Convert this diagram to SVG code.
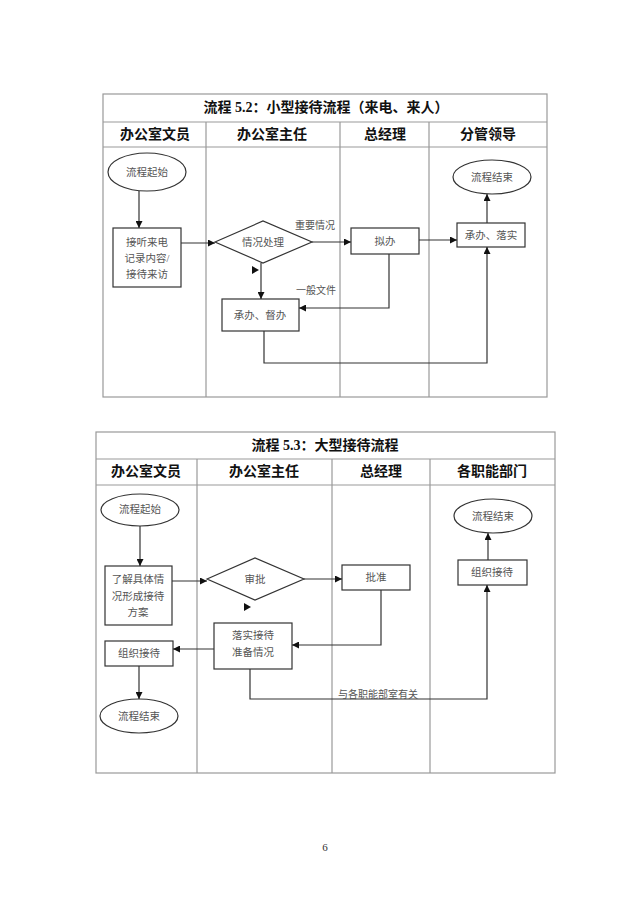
<svg xmlns="http://www.w3.org/2000/svg" width="640" height="906" viewBox="0 0 640 906">
<style>
.grid{fill:none;stroke:#999;stroke-width:1.2}
.node{fill:#fff;stroke:#333;stroke-width:1.2}
.conn{fill:none;stroke:#333;stroke-width:1.2}
.t{font-family:"Liberation Serif","Noto Sans CJK SC",serif;font-size:10.5px;fill:#555;text-anchor:middle}
.h{font-family:"Liberation Serif","Noto Sans CJK SC",serif;font-size:14px;font-weight:bold;fill:#111;text-anchor:middle}
.lbl{font-family:"Liberation Serif","Noto Sans CJK SC",serif;font-size:10px;fill:#555;text-anchor:start}
</style>
<defs>
<marker id="ah" viewBox="0 0 10 10" refX="10" refY="5" markerWidth="7" markerHeight="7" orient="auto" markerUnits="userSpaceOnUse">
<path d="M0,0 L10,5 L0,10 z" fill="#111"/>
</marker>
</defs>
<rect width="640" height="906" fill="#fff"/>

<!-- Table 1 -->
<g id="table1">
<rect class="grid" x="103" y="94" width="444" height="303"/>
<line class="grid" x1="103" y1="122" x2="547" y2="122"/>
<line class="grid" x1="103" y1="147" x2="547" y2="147"/>
<line class="grid" x1="206" y1="122" x2="206" y2="397"/>
<line class="grid" x1="340" y1="122" x2="340" y2="397"/>
<line class="grid" x1="429" y1="122" x2="429" y2="397"/>
<text class="h" x="326" y="112">流程 5.2：小型接待流程（来电、来人）</text>
<text class="h" x="155" y="139">办公室文员</text>
<text class="h" x="272" y="139">办公室主任</text>
<text class="h" x="385" y="139">总经理</text>
<text class="h" x="488" y="139">分管领导</text>
</g>

<g id="t1-start"><ellipse class="node" cx="147" cy="172" rx="39" ry="19"/><text class="t" x="147" y="176">流程起始</text></g>
<g id="t1-receive"><rect class="node" x="113" y="228" width="68" height="59"/>
<text class="t" x="147" y="246">接听来电</text><text class="t" x="147" y="262">记录内容/</text><text class="t" x="147" y="278">接待来访</text></g>
<g id="t1-decide"><polygon class="node" points="215,242 263,221 312,242 263,263"/><text class="t" x="263" y="246">情况处理</text></g>
<g id="t1-draft"><rect class="node" x="351" y="228" width="68" height="26"/><text class="t" x="385" y="245">拟办</text></g>
<g id="t1-impl"><rect class="node" x="457" y="223" width="68" height="24"/><text class="t" x="491" y="239">承办、落实</text></g>
<g id="t1-end"><ellipse class="node" cx="492" cy="177" rx="39" ry="17"/><text class="t" x="492" y="181">流程结束</text></g>
<g id="t1-handle"><rect class="node" x="222" y="299" width="77" height="32"/><text class="t" x="260" y="319">承办、督办</text></g>

<g id="connectors1">
<line class="conn" x1="139" y1="191" x2="139" y2="228" marker-end="url(#ah)"/>
<line class="conn" x1="181" y1="243" x2="215" y2="243" marker-end="url(#ah)"/>
<line class="conn" x1="312" y1="242" x2="351" y2="242" marker-end="url(#ah)"/>
<line class="conn" x1="419" y1="240" x2="457" y2="240" marker-end="url(#ah)"/>
<line class="conn" x1="487" y1="223" x2="487" y2="194" marker-end="url(#ah)"/>
<line class="conn" x1="261" y1="263" x2="261" y2="299" marker-end="url(#ah)"/>
<polyline class="conn" points="389,254 389,308 299,308" marker-end="url(#ah)"/>
<polyline class="conn" points="264,331 264,363 487,363 487,247" marker-end="url(#ah)"/>
<path d="M252,266 L259,270 L252,274 z" fill="#111"/>
<text class="lbl" x="295" y="229">重要情况</text>
<text class="lbl" x="296" y="294">一般文件</text>
</g>

<!-- Table 2 -->
<g id="table2">
<rect class="grid" x="96" y="432" width="459" height="341"/>
<line class="grid" x1="96" y1="459" x2="555" y2="459"/>
<line class="grid" x1="96" y1="485" x2="555" y2="485"/>
<line class="grid" x1="197" y1="459" x2="197" y2="773"/>
<line class="grid" x1="332" y1="459" x2="332" y2="773"/>
<line class="grid" x1="430" y1="459" x2="430" y2="773"/>
<text class="h" x="325" y="450">流程 5.3：大型接待流程</text>
<text class="h" x="146" y="476">办公室文员</text>
<text class="h" x="264" y="476">办公室主任</text>
<text class="h" x="381" y="476">总经理</text>
<text class="h" x="492" y="476">各职能部门</text>
</g>

<g id="t2-start"><ellipse class="node" cx="140" cy="510" rx="39" ry="16"/><text class="t" x="140" y="513">流程起始</text></g>
<g id="t2-plan"><rect class="node" x="105" y="566" width="67" height="59"/>
<text class="t" x="138" y="583">了解具体情</text><text class="t" x="138" y="600">况形成接待</text><text class="t" x="138" y="616">方案</text></g>
<g id="t2-review"><polygon class="node" points="207,579 255,558 304,579 255,600"/><text class="t" x="255" y="583">审批</text></g>
<g id="t2-approve"><rect class="node" x="342" y="565" width="68" height="25"/><text class="t" x="376" y="581">批准</text></g>
<g id="t2-prepare"><rect class="node" x="214" y="623" width="78" height="46"/>
<text class="t" x="253" y="639">落实接待</text><text class="t" x="253" y="656">准备情况</text></g>
<g id="t2-organize"><rect class="node" x="105" y="641" width="68" height="25"/><text class="t" x="139" y="657">组织接待</text></g>
<g id="t2-end-left"><ellipse class="node" cx="139" cy="716" rx="39" ry="17"/><text class="t" x="139" y="720">流程结束</text></g>
<g id="t2-organize-right"><rect class="node" x="458" y="560" width="69" height="25"/><text class="t" x="492" y="576">组织接待</text></g>
<g id="t2-end-right"><ellipse class="node" cx="493" cy="516" rx="39" ry="17"/><text class="t" x="493" y="520">流程结束</text></g>

<g id="connectors2">
<line class="conn" x1="140" y1="526" x2="140" y2="566" marker-end="url(#ah)"/>
<line class="conn" x1="172" y1="581" x2="207" y2="581" marker-end="url(#ah)"/>
<line class="conn" x1="304" y1="579" x2="342" y2="579" marker-end="url(#ah)"/>
<polyline class="conn" points="381,590 381,645 292,645" marker-end="url(#ah)"/>
<line class="conn" x1="214" y1="649" x2="173" y2="649" marker-end="url(#ah)"/>
<line class="conn" x1="139" y1="666" x2="139" y2="699" marker-end="url(#ah)"/>
<polyline class="conn" points="250,669 250,699 487,699 487,585" marker-end="url(#ah)"/>
<line class="conn" x1="488" y1="560" x2="488" y2="533" marker-end="url(#ah)"/>
<path d="M244,603 L251,607 L244,611 z" fill="#111"/>
<text class="lbl" x="338" y="698">与各职能部室有关</text>
</g>

<text x="325" y="851" style="font-family:'Liberation Serif',serif;font-size:11px;fill:#333;text-anchor:middle">6</text>
</svg>
